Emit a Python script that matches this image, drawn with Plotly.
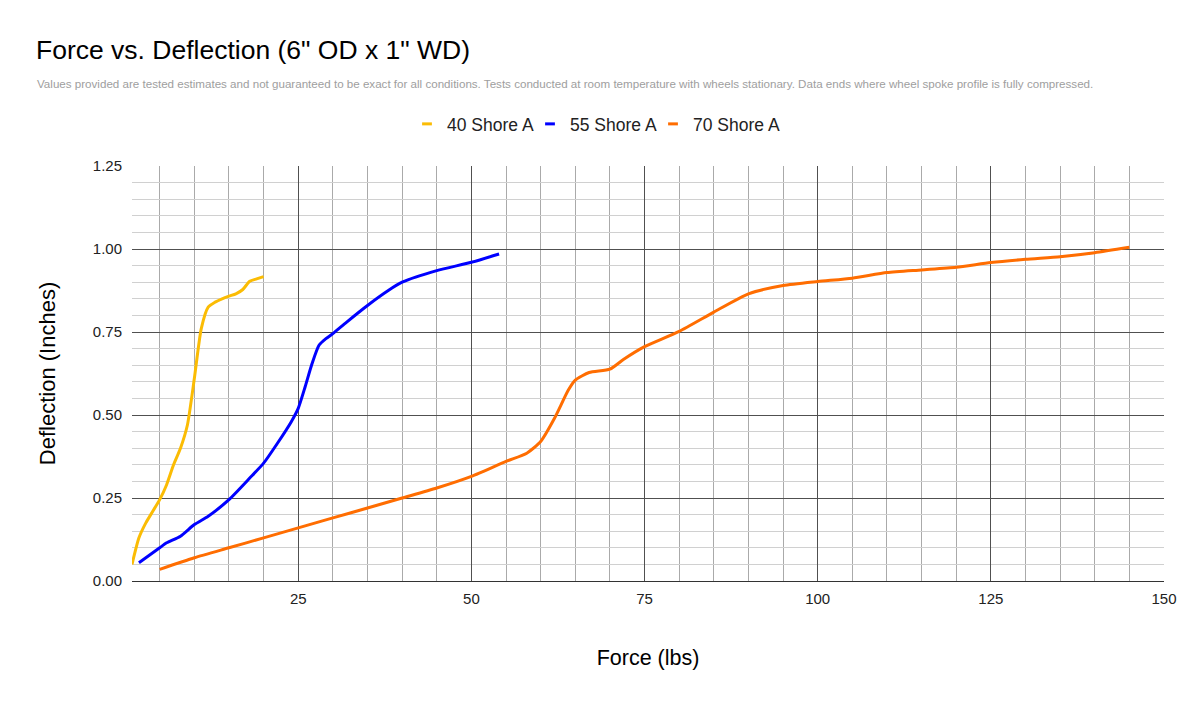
import plotly.graph_objects as go

# 40 Shore A
f40 = [1, 2, 3, 4, 5, 6, 7, 8, 9, 10, 11, 12, 13, 14, 15, 16, 17, 18, 19, 20]
d40 = [0.05, 0.13, 0.175, 0.21, 0.245, 0.29, 0.35, 0.40, 0.47, 0.61, 0.76, 0.825, 0.84, 0.85, 0.858, 0.865, 0.878, 0.903, 0.91, 0.917]

# 55 Shore A
f55 = [2, 3, 4, 5, 6, 8, 10, 12, 15, 18, 20, 22, 24, 25, 26, 27, 28, 29, 30, 32, 35, 38, 40, 45, 50, 54]
d55 = [0.055, 0.07, 0.085, 0.10, 0.115, 0.135, 0.17, 0.195, 0.245, 0.31, 0.355, 0.415, 0.48, 0.52, 0.585, 0.655, 0.71, 0.73, 0.745, 0.78, 0.83, 0.875, 0.90, 0.935, 0.96, 0.985]

# 70 Shore A
f70 = [5, 10, 15, 20, 25, 30, 35, 40, 45, 50, 55, 58, 60, 62, 64, 65, 67, 70, 72, 75, 80, 85, 90, 95, 100, 105, 110, 115, 120, 125, 130, 135, 140, 145]
d70 = [0.035, 0.07, 0.10, 0.13, 0.16, 0.19, 0.22, 0.25, 0.28, 0.315, 0.36, 0.385, 0.42, 0.49, 0.575, 0.605, 0.628, 0.638, 0.668, 0.706, 0.752, 0.81, 0.865, 0.89, 0.902, 0.912, 0.929, 0.937, 0.945, 0.959, 0.969, 0.977, 0.989, 1.005]

names = ["40 Shore A", "55 Shore A", "70 Shore A"]
colors = ["#fbbc04", "#0000ff", "#ff6d01"]
series = [(f40, d40), (f55, d55), (f70, d70)]

title_text = 'Force vs. Deflection (6" OD x 1" WD)'
subtitle_text = ("Values provided are tested estimates and not guaranteed to be exact for all conditions. "
                 "Tests conducted at room temperature with wheels stationary. "
                 "Data ends where wheel spoke profile is fully compressed.")

fig = go.Figure()
for (xs, ys), nm, c in zip(series, names, colors):
    fig.add_trace(go.Scatter(x=xs, y=ys, mode="lines", name=nm, showlegend=False,
                             line=dict(color=c, width=3, shape="spline", smoothing=0.6)))
    fig.add_trace(go.Scatter(x=[None], y=[None], mode="markers", name=nm,
                             marker=dict(symbol="line-ew", size=7, color=c,
                                         line=dict(color=c, width=3))))
# invisible spacer entry so the last legend label is not clipped
fig.add_trace(go.Scatter(x=[None], y=[None], mode="markers", name=" ", hoverinfo="skip",
                         marker=dict(symbol="line-ew", size=7, color="rgba(0,0,0,0)",
                                     line=dict(color="rgba(0,0,0,0)", width=0))))

font = "Liberation Sans, Arial, sans-serif"
fig.update_layout(
    width=1200, height=703,
    margin=dict(l=132, r=36, t=166, b=122, autoexpand=False),
    paper_bgcolor="white", plot_bgcolor="white",
    font=dict(family=font, color="#222222", size=15),
    title=dict(
        text=title_text,
        x=0.03, xanchor="left", xref="container",
        y=1 - 50 / 703, yanchor="middle", yref="container",
        font=dict(size=26.5, color="#000000", family=font),
    ),
    annotations=[dict(
        text=subtitle_text, xref="paper", yref="paper",
        x=(35 - 132) / 1032, xanchor="left", y=(581 - 83) / 415, yanchor="middle",
        showarrow=False, font=dict(size=11.6, color="#9e9e9e", family=font),
    )],
    legend=dict(orientation="h", xref="paper", x=(407 - 132) / 1032, xanchor="left",
                y=(581 - 124) / 415, yanchor="middle", entrywidth=78, entrywidthmode="pixels",
                font=dict(size=17.5, color="#222222"), itemwidth=30, traceorder="normal"),
    xaxis=dict(
        range=[1, 150], tick0=0, dtick=25, showgrid=True, gridcolor="#505050", gridwidth=1,
        zeroline=False, showline=True, linecolor="#333333", linewidth=1,
        ticks="", ticklabelstandoff=4, tickfont=dict(size=15, color="#222222"),
        minor=dict(dtick=5, tick0=0, showgrid=True, gridcolor="#aaaaaa", gridwidth=1),
        title=dict(text="Force (lbs)", font=dict(size=21.5, color="#000000"), standoff=43),
    ),
    yaxis=dict(
        range=[0, 1.25], tick0=0, dtick=0.25, tickformat=".2f", showgrid=True,
        gridcolor="#505050", gridwidth=1, zeroline=False, ticks="",
        ticklabelstandoff=9, tickfont=dict(size=15, color="#222222"),
        minor=dict(dtick=0.05, tick0=0, showgrid=True, gridcolor="#d0d0d0", gridwidth=1),
        title=dict(text="Deflection (Inches)", font=dict(size=22, color="#000000"), standoff=31),
    ),
)

fig.write_html("out.html")
